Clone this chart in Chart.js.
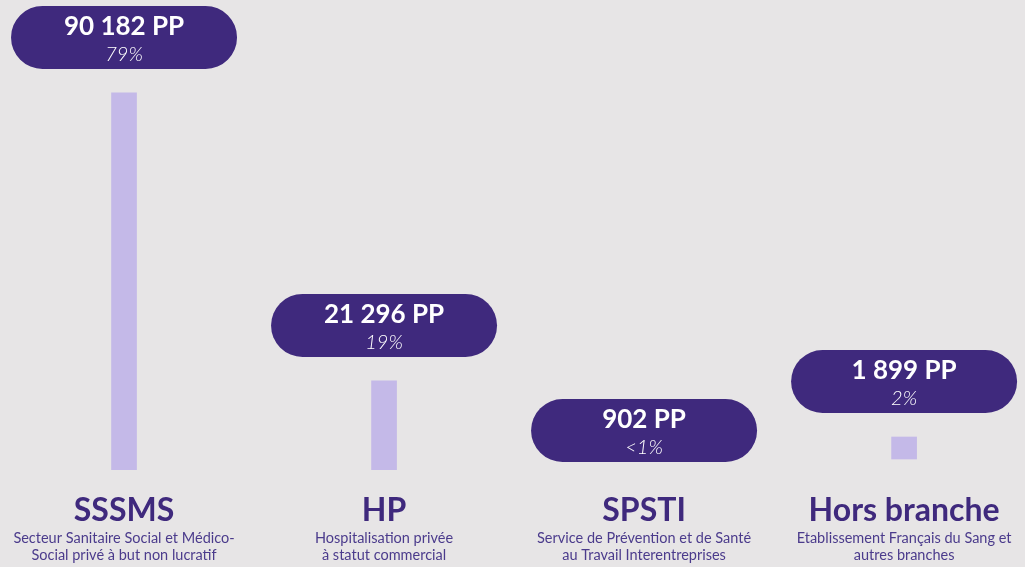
<!DOCTYPE html>
<html lang="fr">
<head>
    <meta charset="UTF-8">
    <title>Effectifs par branche</title>
    <script src="https://cdn.jsdelivr.net/npm/chart.js"></script>
    <style>
        body {
            margin: 0;
            padding: 0;
            background-color: #e7e5e6;
        }
        .chart-container {
            position: relative;
            width: 1025px;
            height: 567px;
        }
    </style>
</head>
<body>
    <div class="chart-container">
        <canvas id="brancheChart"></canvas>
    </div>

    <script>
        // Données
        const categories = ['SSSMS', 'HP', 'SPSTI', 'Hors branche'];
        const sousTitres = [
            ['Secteur Sanitaire Social et Médico-', 'Social privé à but non lucratif'],
            ['Hospitalisation privée', 'à statut commercial'],
            ['Service de Prévention et de Santé', 'au Travail Interentreprises'],
            ['Etablissement Français du Sang et', 'autres branches']
        ];
        const effectifs = ['90 182 PP', '21 296 PP', '902 PP', '1 899 PP'];
        const parts = ['79%', '19%', '<1%', '2%'];
        // barres telles que dessinées (bas / haut)
        const barLow = [0, 0, null, 2630];
        const barHigh = [90182, 21296, null, 7890];

        const violet = '#3f297d';
        const lilas = '#c4b9e8';

        const barData = [];
        barLow.forEach((lo, i) => {
            if (lo !== null) barData.push({ x: i, y: [lo, barHigh[i]] });
        });

        // pastilles + libellés de catégories
        const labelPlugin = {
            id: 'labelPlugin',
            afterDatasetsDraw(chart) {
                const ctx = chart.ctx;
                const xs = chart.scales.x;
                const ys = chart.scales.y;
                const base = ys.getPixelForValue(0);
                categories.forEach((cat, i) => {
                    const x = xs.getPixelForValue(i);
                    let bottom;
                    if (barHigh[i] !== null) {
                        bottom = ys.getPixelForValue(barHigh[i]) - 24;
                    } else {
                        bottom = base - 8;
                    }
                    const w = 226, h = 63, r = h / 2;
                    const left = x - w / 2, top = bottom - h;
                    ctx.save();
                    ctx.fillStyle = violet;
                    ctx.beginPath();
                    ctx.moveTo(left + r, top);
                    ctx.lineTo(left + w - r, top);
                    ctx.arc(left + w - r, top + r, r, -Math.PI / 2, Math.PI / 2);
                    ctx.lineTo(left + r, bottom);
                    ctx.arc(left + r, top + r, r, Math.PI / 2, Math.PI * 1.5);
                    ctx.closePath();
                    ctx.fill();

                    ctx.fillStyle = '#ffffff';
                    ctx.textAlign = 'center';
                    ctx.textBaseline = 'middle';
                    ctx.font = 'bold 26px Lato';
                    ctx.fillText(effectifs[i], x, top + 21);
                    ctx.font = 'italic 300 20px Lato';
                    ctx.fillText(parts[i], x, top + 49);

                    // libellés sous l'axe
                    ctx.fillStyle = violet;
                    ctx.font = 'bold 32px Lato';
                    ctx.fillText(cat, x, 511);
                    ctx.fillStyle = '#4b3b8c';
                    ctx.font = '14.5px Lato';
                    ctx.fillText(sousTitres[i][0], x, 538);
                    ctx.fillText(sousTitres[i][1], x, 555);
                    ctx.restore();
                });
            }
        };

        const ctx = document.getElementById('brancheChart').getContext('2d');
        new Chart(ctx, {
            type: 'bar',
            data: {
                datasets: [{
                    data: barData,
                    backgroundColor: lilas,
                    borderWidth: 0,
                    borderSkipped: false,
                    barThickness: 25
                }]
            },
            options: {
                responsive: true,
                maintainAspectRatio: false,
                animation: false,
                layout: {
                    padding: { top: 0, bottom: 97, left: 0, right: 0 }
                },
                scales: {
                    x: {
                        type: 'linear',
                        display: false,
                        offset: false,
                        min: -0.477,
                        max: 3.465,
                        grid: { display: false }
                    },
                    y: {
                        display: false,
                        min: 0,
                        max: 112400
                    }
                },
                plugins: {
                    legend: { display: false },
                    tooltip: { enabled: false }
                }
            },
            plugins: [labelPlugin]
        });
    </script>
</body>
</html>
